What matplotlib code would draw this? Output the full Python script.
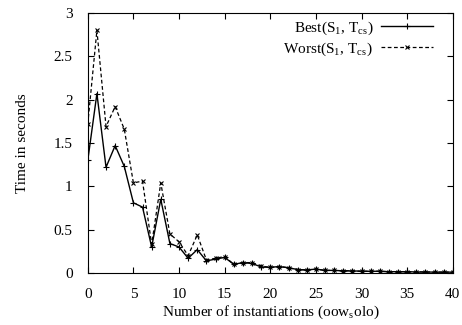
import matplotlib
matplotlib.use('Agg')
import matplotlib.pyplot as plt
import numpy as np

instances = np.arange(0, 41)
best = [1.30, 2.07, 1.22, 1.47, 1.23, 0.81, 0.76, 0.30, 0.85, 0.34,
        0.30, 0.17, 0.27, 0.14, 0.16, 0.18, 0.10, 0.12, 0.11, 0.07,
        0.065, 0.075, 0.06, 0.04, 0.035, 0.045, 0.03, 0.03, 0.025, 0.025,
        0.02, 0.02, 0.02, 0.015, 0.015, 0.015, 0.012, 0.012, 0.01, 0.01, 0.01]
worst = [1.72, 2.80, 1.69, 1.92, 1.66, 1.04, 1.06, 0.33, 1.04, 0.45,
         0.36, 0.20, 0.44, 0.15, 0.17, 0.19, 0.10, 0.12, 0.12, 0.08,
         0.065, 0.075, 0.06, 0.04, 0.035, 0.045, 0.03, 0.03, 0.025, 0.025,
         0.02, 0.02, 0.02, 0.015, 0.015, 0.015, 0.012, 0.012, 0.01, 0.01, 0.01]

plt.rcParams['font.family'] = 'Liberation Serif'
plt.rcParams['mathtext.fontset'] = 'custom'
plt.rcParams['mathtext.rm'] = 'Liberation Serif'
plt.rcParams['font.size'] = 11

fig = plt.figure(figsize=(4.62, 3.25), dpi=100)
ax = fig.add_axes([0.19, 0.16, 0.79, 0.8])

ax.plot(instances, best, color='black', linewidth=1.0, marker='+',
        markersize=4, markeredgewidth=0.8,
        label=r'Best(S$_\mathregular{1}$, T$_\mathregular{cs}$)')
ax.plot(instances, worst, color='black', linewidth=0.9, linestyle=(0, (3, 2)),
        marker='x', markersize=3.5, markeredgewidth=0.8,
        label=r'Worst(S$_\mathregular{1}$, T$_\mathregular{cs}$)')

ax.set_xlim(0, 40)
ax.set_ylim(0, 3)
ax.set_xticks(np.arange(0, 41, 5))
ax.set_yticks(np.arange(0, 3.01, 0.5))
ax.set_yticklabels(['0', '0.5', '1', '1.5', '2', '2.5', '3'])
ax.tick_params(direction='in', top=True, right=True, length=4)
ax.tick_params(axis='x', pad=11)
ax.tick_params(axis='y', pad=11)
ax.set_xlabel(r'Number of instantiations (oow$_\mathregular{s}$olo)', labelpad=2)
ax.set_ylabel('Time in seconds', labelpad=18)

ax.legend(loc='upper right', bbox_to_anchor=(0.945, 0.975), frameon=False,
          markerfirst=False, numpoints=1, handlelength=3.4, borderaxespad=0,
          borderpad=0, labelspacing=0.25, handletextpad=0.5)

fig.savefig('out.png', dpi=100)
